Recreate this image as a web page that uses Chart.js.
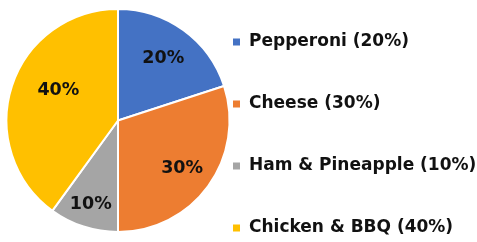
<!DOCTYPE html>
<html><head><meta charset="utf-8">
<script src="https://cdn.jsdelivr.net/npm/chart.js@4.4.1/dist/chart.umd.min.js"></script>
<style>html,body{margin:0;padding:0;background:#fff;}#wrap{width:477px;height:242px;}</style>
</head><body><div id="wrap"><canvas id="c" width="477" height="242"></canvas></div>
<script>
const categories = ["Pepperoni", "Cheese", "Ham & Pineapple", "Chicken & BBQ"];
const shares = [20, 30, 10, 40];
const colors = ["#4472C4", "#ED7D31", "#A5A5A5", "#FFC000"];
const FONT = "'DejaVu Sans'";

// label placement style: radial fraction and angle tweak (degrees) per slice
const labelStyle = [{r:0.69,a:0},{r:0.72,a:1},{r:0.79,a:0},{r:0.6,a:9}];

const pieLabels = {
  id: 'pieLabels',
  afterDatasetsDraw(chart) {
    const ctx = chart.ctx;
    const meta = chart.getDatasetMeta(0);
    ctx.save();
    ctx.font = "bold 17.5px " + FONT;
    ctx.fillStyle = "#111";
    ctx.textAlign = "center";
    ctx.textBaseline = "middle";
    meta.data.forEach((arc, i) => {
      const p = arc.getProps(['x','y','startAngle','endAngle','outerRadius'], true);
      const mid = (p.startAngle + p.endAngle) / 2 + labelStyle[i].a * Math.PI / 180;
      const r = p.outerRadius * labelStyle[i].r;
      ctx.fillText(shares[i] + "%", p.x + Math.cos(mid) * r, p.y + Math.sin(mid) * r);
    });
    ctx.restore();
  }
};

const sideLegend = {
  id: 'sideLegend',
  afterDraw(chart) {
    const ctx = chart.ctx;
    const x0 = 233;
    const y0 = 42, step = 62;
    ctx.save();
    ctx.font = "bold 17px " + FONT;
    ctx.textBaseline = "middle";
    ctx.textAlign = "left";
    chart.data.labels.forEach((lab, i) => {
      const y = y0 + i * step;
      ctx.fillStyle = colors[i];
      ctx.fillRect(x0, y - 3.5, 7, 7);
      ctx.fillStyle = "#111";
      ctx.fillText(lab + " (" + shares[i] + "%)", x0 + 16, y);
    });
    ctx.restore();
  }
};

new Chart(document.getElementById('c'), {
  type: 'pie',
  data: {
    labels: categories,
    datasets: [{ data: shares, backgroundColor: colors, borderColor: "#fff", borderWidth: 2 }]
  },
  options: {
    responsive: false,
    animation: false,
    layout: { padding: { left: 5, right: 246, top: 8, bottom: 9 } },
    plugins: { legend: { display: false }, tooltip: { enabled: false } }
  },
  plugins: [pieLabels, sideLegend]
});
</script></body></html>
